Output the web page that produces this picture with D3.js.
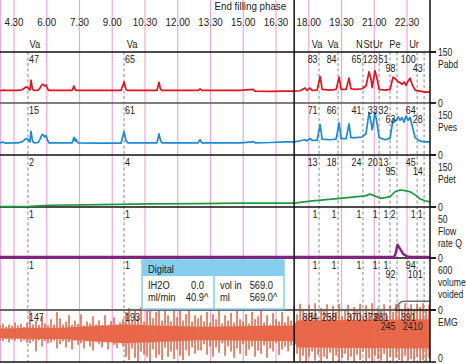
<!DOCTYPE html>
<html><head><meta charset="utf-8">
<script src="https://cdn.jsdelivr.net/npm/d3@7"></script>
<style>
body{margin:0;background:#fff;}
svg{display:block;font-family:"Liberation Sans",Arial,sans-serif;}
</style></head><body>
<svg id="chart" width="466" height="364"></svg>
<script>
// time axis (minutes), grid + labels
const gridTimes = [3.88, 4.5, 6, 7.5, 9, 10.5, 12, 13.5, 15, 16.5, 18, 19.5, 21, 22.5];
const tickTimes = [4.5, 6, 7.5, 9, 10.5, 12, 13.5, 15, 16.5, 18, 19.5, 21, 22.5];
const tickLabels = ['4.30','6.00','7.30','9.00','10.30','12.00','13.30','15.00','16.30','18.00','19.30','21.00','22.30'];
const endFilling = 17.33;

// traces [time, value]
const pabd = [[3.86,36],[4.00,38],[4.13,37],[4.41,37],[4.68,37],[4.87,39],[5.05,47],[5.14,45],[5.23,38],[5.28,67],[5.35,40],[5.42,37],[5.60,38],[5.69,44],[5.78,54],[5.83,55],[5.90,50],[5.97,53],[6.04,42],[6.10,37],[6.61,37],[7.16,37],[7.25,50],[7.30,40],[7.34,37],[8.44,37],[9.40,37],[9.54,62],[9.63,40],[9.72,37],[10.73,37],[11.05,37],[11.14,61],[11.21,40],[11.28,37],[12.93,37],[13.02,41],[13.11,37],[14.85,37],[15.45,40],[15.54,35],[16.23,34],[16.91,35],[17.33,35],[17.60,36],[17.83,44],[17.92,37],[18.06,44],[18.15,37],[18.38,38],[18.52,78],[18.61,40],[18.97,38],[19.25,40],[19.39,76],[19.48,40],[19.71,40],[19.84,73],[19.93,42],[20.16,40],[20.44,42],[20.62,50],[20.76,92],[20.85,70],[20.90,45],[20.94,60],[21.03,95],[21.13,70],[21.22,40],[21.49,38],[21.72,40],[21.86,76],[21.99,70],[22.09,62],[22.18,60],[22.27,55],[22.36,62],[22.45,52],[22.55,65],[22.64,73],[22.73,55],[22.87,38],[23.10,35],[23.33,32],[23.55,32]];
const pves = [[3.86,35],[4.00,37],[4.13,34],[4.41,35],[4.68,35],[4.87,38],[5.05,47],[5.14,45],[5.23,38],[5.28,68],[5.35,40],[5.42,35],[5.60,36],[5.69,45],[5.78,58],[5.83,59],[5.90,52],[5.97,56],[6.04,42],[6.10,35],[6.61,35],[7.16,35],[7.25,51],[7.30,40],[7.34,46],[7.43,35],[8.44,34],[9.40,34],[9.54,67],[9.63,42],[9.72,35],[11.05,35],[11.14,61],[11.21,42],[11.28,35],[12.93,35],[13.02,44],[13.11,35],[14.85,35],[15.45,38],[15.54,35],[16.23,36],[16.91,38],[17.33,38],[17.60,41],[17.83,44],[17.92,41],[18.06,48],[18.15,42],[18.38,42],[18.52,88],[18.61,46],[18.97,44],[19.25,46],[19.39,93],[19.48,47],[19.71,47],[19.84,90],[19.93,50],[20.16,50],[20.44,52],[20.62,62],[20.76,122],[20.85,95],[20.90,73],[20.94,85],[21.03,124],[21.13,90],[21.22,50],[21.49,44],[21.72,48],[21.86,103],[21.99,98],[22.09,110],[22.18,100],[22.27,108],[22.36,95],[22.45,112],[22.55,100],[22.64,108],[22.73,85],[22.87,50],[23.10,40],[23.33,38],[23.55,38]];
const pdet = [[3.86,1],[5.23,2],[6.15,5],[8.44,7],[10.73,9],[13.02,10],[14.85,11],[17.33,11],[18.06,17],[19.43,25],[20.58,32],[20.80,37],[21.03,32],[21.26,25],[21.49,27],[21.72,30],[21.95,44],[22.18,49],[22.41,47],[22.64,44],[22.87,35],[23.10,23],[23.33,18],[23.55,15]];
const flow = [[3.86,1],[21.90,1],[21.97,4],[22.06,13],[22.18,9],[22.32,4],[22.50,1.5],[22.64,1],[23.55,1]];
const volume = [[3.86,0],[21.90,0],[21.99,20],[22.09,60],[22.18,85],[22.27,98],[22.41,101],[23.55,101]];

// EMG spikes, one sample every 0.1374 min from 3.86
const emgStart = 3.86, emgStep = 0.1374;
const emgTop = [70,74,68,72,69,76,70,73,68,75, 100,72,80,71,88,74,70,82,72,96,
  84,72,78,90,71,80,73,92,70,78,74,88,72,80,71,90,70,79,86,72,76,82,
  96,104,80,100,86,106,78,98,102,84,96,104,80,100,90,78,98,86,104,80,92,100,78,90,84,
  90,78,96,76,92,82,100,74,90,80,94,76,98,82,78,92,74,96,82,88,100,76,90,72,94,82,78,96,76,88,80,
  108,92,112,100,88,110,96,113,86,104,98,111,90,108,96,112,88,102,110,92,106,98,112,90,109,96,113,92,104,100,111,90,108,96,112,110,100,113,104,111,100,112,106,113,102,110];
const emgBottom = [42,40,44,38,43,41,45,39,42,37, 36,40,20,42,30,40,36,38,41,26,
  34,40,28,38,24,41,33,36,26,40,30,22,39,34,28,38,24,40,33,27,37,30,
  10,4,26,8,2,20,14,10,0,24,8,14,4,28,10,20,6,24,12,4,22,12,28,16,22,
  22,34,14,30,10,28,18,36,12,30,20,8,26,16,34,12,24,30,10,22,16,32,8,26,20,36,14,24,30,20,32,
  4,16,2,12,0,10,20,3,14,1,10,6,18,2,12,0,8,16,3,10,1,14,4,20,2,8,0,12,6,3,16,1,10,2,8,4,0,12,3,6,1,10,2,4,0,8];
// dense EMG core band
const emgCoreTimes = [3.86, 5.14, 6.61, 9.54, 13.02, 17.33, 17.45, 23.55];
const emgCoreTop = [64, 66, 66, 72, 68, 70, 80, 82];
const emgCoreBottom = [46, 44, 44, 36, 42, 40, 28, 26];

// events and read-outs
const eventTimes = [5.14, 9.54, 18.47, 19.34, 20.48, 21.22, 21.72, 22.04, 22.96, 23.28];
const pabdAtEvent = [47, 65, 83, 84, 65, 123, 51, 98, 100, 43];
const pvesAtEvent = [15, 61, 71, 66, 41, 33, 32, 63, 64, 28];
const pdetAtEvent = [2, 4, 13, 18, 24, 20, 13, 95, 45, 14];
const flowAtEvent = [1, 1, 1, 1, 1, 1, 1, 2, 1, 1];
const volAtEvent = [1, 1, 1, 1, 1, 1, 1, 92, 94, 101];
const emgAtEvent = [147, 193, 884, 258, 370, 373, 281, 245, 391, 2410];
const eventNames = ['Va','Va','Va','Va','N','St','Ur','Pe','Ur'];
const eventNameTimes = [5.46, 9.91, 18.38, 19.11, 20.32, 20.71, 21.17, 21.95, 22.82];

const digitalRows = [['IH2O','0.0','','vol in','569.0',''],['ml/min','40.9','^','ml','569.0','^']];

const svg = d3.select('#chart');
const x = d3.scaleLinear().domain([3.86, 23.55]).range([0, 430]);
const right = 430;

const panels = [
  {names:['Pabd'], max:150, top:52, bottom:103, data:pabd, color:'#e3121f', at:pabdAtEvent},
  {names:['Pves'], max:150, top:103, bottom:155, data:pves, color:'#1a8ad6', at:pvesAtEvent},
  {names:['Pdet'], max:150, top:155, bottom:207, data:pdet, color:'#1e9a42', at:pdetAtEvent},
  {names:['Flow','rate Q'], max:50, top:207, bottom:258, data:flow, color:'#8c1b8c', at:flowAtEvent},
  {names:['volume','voided'], max:600, top:258, bottom:310, data:volume, color:'#707070', at:volAtEvent},
  {names:['EMG'], max:100, top:310, bottom:362, data:null, color:'#e8684a', at:emgAtEvent}
];
panels.forEach(p => p.y = d3.scaleLinear().domain([0, p.max]).range([p.bottom, p.top]));

function label(g, px, py, txt, anchor = 'start', size = 11, sx = 0.85) {
  return g.append('text')
    .attr('transform', `translate(${px},${py}) scale(${sx},1)`)
    .attr('text-anchor', anchor).attr('font-size', size).attr('fill', '#222').text(txt);
}

// pink time grid
svg.append('g').selectAll('line').data(gridTimes).join('line')
  .attr('x1', d => x(d)).attr('x2', d => x(d)).attr('y1', 0).attr('y2', 362)
  .attr('stroke', '#f5a6d8').attr('stroke-width', 1.2);
const tl = svg.append('g');
tickTimes.forEach((t, i) => label(tl, x(t), 26, tickLabels[i], 'middle', 11.5));

// event markers
svg.append('g').selectAll('line').data(eventTimes).join('line')
  .attr('x1', d => x(d)).attr('x2', d => x(d)).attr('y1', 52).attr('y2', 362)
  .attr('stroke', '#8a8a8a').attr('stroke-width', 1).attr('stroke-dasharray', '3,2.5');

// EMG
const pe = panels[5];
svg.append('path').datum(emgCoreTimes.map((t, i) => [t, emgCoreTop[i], emgCoreBottom[i]]))
  .attr('d', d3.area().x(d => x(d[0])).y0(d => pe.y(d[2])).y1(d => pe.y(d[1])))
  .attr('fill', pe.color);
svg.append('g').selectAll('line').data(emgTop.map((v, i) => [emgStart + i * emgStep, v, emgBottom[i]])).join('line')
  .attr('x1', d => x(d[0])).attr('x2', d => x(d[0]))
  .attr('y1', d => pe.y(d[1])).attr('y2', d => pe.y(d[2]))
  .attr('stroke', pe.color).attr('stroke-width', 1.6);

// panel boundaries
const hl = [[52,'#111'],[103,'#555'],[155,'#111'],[207,'#111'],[258,'#111'],[310,'#111'],[362,'#111']];
svg.append('g').selectAll('line').data(hl).join('line')
  .attr('x1', 0).attr('x2', 436).attr('y1', d => d[0]).attr('y2', d => d[0])
  .attr('stroke', d => d[1]).attr('stroke-width', 1.5);

// traces
const line = d3.line().x(d => x(d[0]));
panels.slice(0, 5).forEach((p, i) => {
  svg.append('path').datum(p.data)
    .attr('d', line.y(d => p.y(d[1])).curve(i === 4 ? d3.curveMonotoneX : d3.curveLinear))
    .attr('fill', 'none').attr('stroke', p.color)
    .attr('stroke-width', i === 3 ? 2.4 : 1.7).attr('stroke-linejoin', 'round');
});

// frame verticals
[x(endFilling), right].forEach(vx => svg.append('line')
  .attr('x1', vx).attr('x2', vx).attr('y1', 0).attr('y2', 362)
  .attr('stroke', '#111').attr('stroke-width', 1.5));
label(svg, x(endFilling) - 8, 10, 'End filling phase', 'end', 11.5);

// event names
const en = svg.append('g');
eventNames.forEach((n, i) => label(en, x(eventNameTimes[i]), 48, n, 'middle'));

// read-outs per panel (close neighbours drop to a second row)
const vl = svg.append('g');
panels.forEach(p => {
  eventTimes.forEach((t, i) => {
    const txt = String(p.at[i]);
    const ex = x(t);
    if (t < endFilling) {
      label(vl, ex + 1, p.top + 11, txt, 'start', 10.5);
      return;
    }
    const row = (i > 0 && ex - x(eventTimes[i - 1]) < 8 && txt.length > 1) ? 1 : 0;
    label(vl, ex - 1.5, p.top + 11 + row * 9, txt, 'end', 10.5);
  });
});

// right scale labels
const al = svg.append('g');
panels.forEach((p, i) => {
  const lines = (i === 0 ? [] : ['0']).concat(p.data ? [String(p.max)] : [], p.names);
  lines.forEach((s, j) => label(al, 438, p.top + 4 + j * 12, s, 'start', 10.5, 0.82));
  svg.append('line').attr('x1', right).attr('x2', 436).attr('y1', p.top).attr('y2', p.top).attr('stroke', '#111').attr('stroke-width', 1.5);
});
label(al, 438, 362, '0', 'start', 10.5, 0.82);

// digital readout box
const box = svg.append('g').attr('transform', 'translate(142,260)');
box.append('rect').attr('width', 142).attr('height', 49).attr('fill', '#fff').attr('stroke', '#86cdf0').attr('stroke-width', 1.5);
box.append('rect').attr('width', 142).attr('height', 16).attr('fill', '#86cdf0');
box.append('line').attr('x1', 72).attr('x2', 72).attr('y1', 16).attr('y2', 49).attr('stroke', '#86cdf0').attr('stroke-width', 1.5);
label(box, 6, 12.5, 'Digital');
digitalRows.forEach((r, j) => {
  const by = 28.5 + j * 12;
  label(box, 6, by, r[0]);
  label(box, 62, by, r[1], 'end');
  label(box, 62, by, r[2]);
  label(box, 78, by, r[3]);
  label(box, 131, by, r[4], 'end');
  label(box, 131, by, r[5]);
});
</script>
</body></html>
